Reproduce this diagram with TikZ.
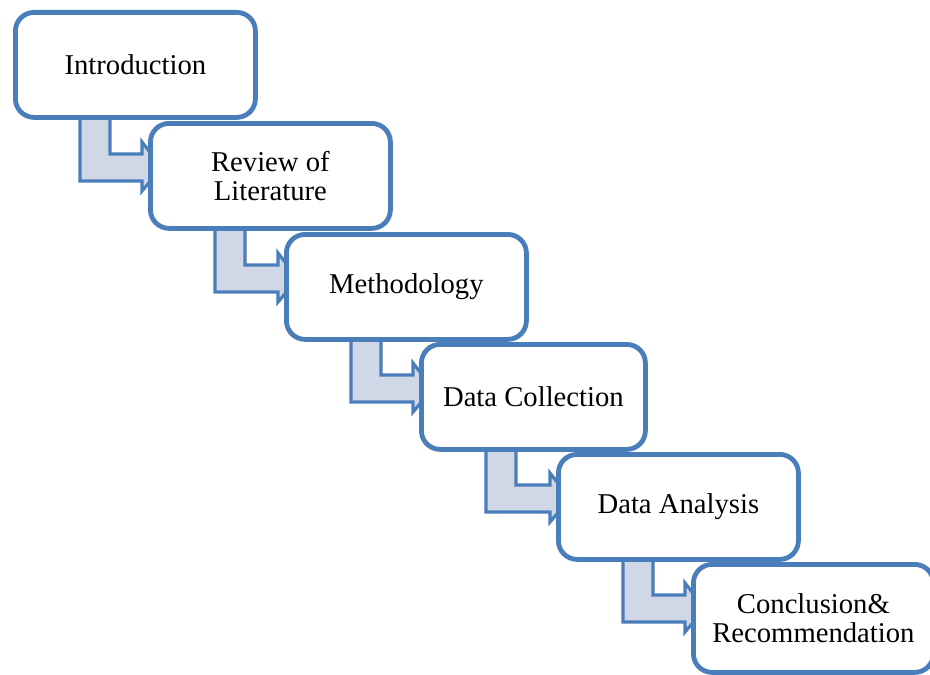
\documentclass[tikz,border=0pt]{standalone}
\usepackage{fontspec}
\setmainfont{Liberation Serif}
\usetikzlibrary{calc,backgrounds}
\definecolor{stageblue}{HTML}{4A7EBB}
\definecolor{arrowfill}{HTML}{D0D8E8}
\tikzset{
    stage/.style={draw=stageblue, line width=3.6pt, rounded corners=14pt,
        fill=white, minimum width=180pt, minimum height=78.75pt,
        anchor=north west, align=center, inner sep=0pt,
        font=\fontsize{21.5}{22}\selectfont},
    bent/.style={draw=stageblue, line width=2.4pt, fill=arrowfill}
}
\newcommand{\stagearrow}[2]{
    \draw[bent] let \p1=(#1.south west), \p2=(#2.north west) in
        (\x1+50.25pt,\y1+4pt) -- (\x1+50.25pt,\y2-45pt)
        -- (\x2-4.5pt,\y2-45pt) -- (\x2-4.5pt,\y2-52.5pt)
        -- (\x2+10.5pt,\y2-34.9pt) -- (\x2-4.5pt,\y2-15.75pt)
        -- (\x2-4.5pt,\y2-24.75pt) -- (\x1+72.75pt,\y2-24.75pt)
        -- (\x1+72.75pt,\y1+4pt) -- cycle;
}

\begin{document}
\begin{tikzpicture}[x=0.75pt,y=-0.75pt]
    \useasboundingbox (0,0) rectangle (930,674);
    \node[stage] (intro) at (13,10) {Introduction};
    \node[stage] (review) at (148,121) {Review of\\Literature};
    \node[stage] (method) at (284,232) {Methodology};
    \node[stage,minimum width=168pt] (collect) at (419,342) {Data Collection};
    \node[stage] (analysis) at (556,452) {Data Analysis};
    \node[stage,minimum height=81pt] (concl) at (691,562) {Conclusion\&\\Recommendation};
    \begin{pgfonlayer}{background}
        \stagearrow{intro}{review}
        \stagearrow{review}{method}
        \stagearrow{method}{collect}
        \stagearrow{collect}{analysis}
        \stagearrow{analysis}{concl}
    \end{pgfonlayer}
\end{tikzpicture}
\end{document}
